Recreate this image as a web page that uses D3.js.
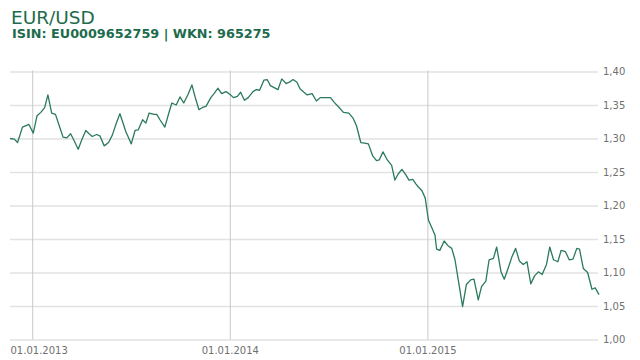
<!DOCTYPE html>
<html>
<head>
<meta charset="utf-8">
<script src="https://cdn.jsdelivr.net/npm/d3@7"></script>
<style>
  html, body { margin: 0; padding: 0; background: #fff; }
  svg { display: block; }
</style>
</head>
<body>
<svg id="chart" width="640" height="360"></svg>
<script>
const title = "EUR/USD";
const subtitle = "ISIN: EU0009652759 | WKN: 965275";

const dates = [
"2012-11-21","2012-11-29","2012-12-05","2012-12-14","2012-12-26","2013-01-03","2013-01-10","2013-01-17","2013-01-24","2013-01-30",
"2013-02-06","2013-02-13","2013-02-20","2013-02-27","2013-03-06","2013-03-13","2013-03-20","2013-03-27","2013-04-03","2013-04-10",
"2013-04-16","2013-04-22","2013-04-30","2013-05-06","2013-05-14","2013-05-22","2013-05-29","2013-06-05","2013-06-12","2013-06-17",
"2013-06-23","2013-06-28","2013-07-03","2013-07-10","2013-07-16","2013-07-24","2013-07-30","2013-08-05","2013-08-14","2013-08-19",
"2013-08-25","2013-09-03","2013-09-10","2013-09-16","2013-09-24","2013-10-01","2013-10-08","2013-10-16","2013-10-23","2013-10-29",
"2013-11-05","2013-11-13","2013-11-18","2013-11-27","2013-12-04","2013-12-10","2013-12-17","2013-12-25","2014-01-01","2014-01-08",
"2014-01-15","2014-01-21","2014-01-28","2014-02-04","2014-02-13","2014-02-19","2014-02-25","2014-03-05","2014-03-11","2014-03-17",
"2014-03-24","2014-03-31","2014-04-07","2014-04-15","2014-04-21","2014-04-28","2014-05-05","2014-05-11","2014-05-18","2014-05-24",
"2014-06-02","2014-06-10","2014-06-17","2014-06-27","2014-07-06","2014-07-13","2014-07-21","2014-07-30","2014-08-09","2014-08-17",
"2014-08-23","2014-08-31","2014-09-07","2014-09-14","2014-09-22","2014-09-29","2014-10-04","2014-10-11","2014-10-19","2014-10-27",
"2014-11-02","2014-11-08","2014-11-15","2014-11-22","2014-11-28","2014-12-05","2014-12-11","2014-12-15","2014-12-22","2014-12-28",
"2015-01-03","2015-01-09","2015-01-15","2015-01-18","2015-01-24","2015-02-01","2015-02-08","2015-02-15","2015-02-21","2015-02-28",
"2015-03-07","2015-03-14","2015-03-22","2015-03-28","2015-04-05","2015-04-11","2015-04-19","2015-04-25","2015-05-03","2015-05-09",
"2015-05-17","2015-05-23","2015-05-30","2015-06-06","2015-06-13","2015-06-20","2015-06-27","2015-07-04","2015-07-11","2015-07-18",
"2015-07-25","2015-08-01","2015-08-09","2015-08-15","2015-08-22","2015-08-30","2015-09-05","2015-09-13","2015-09-20","2015-09-27",
"2015-10-04","2015-10-09","2015-10-16","2015-10-24","2015-11-01","2015-11-07","2015-11-14"
];

const rates = [
1.300,1.299,1.294,1.317,1.321,1.308,1.334,1.339,1.346,1.365,
1.338,1.336,1.319,1.302,1.301,1.307,1.296,1.284,1.299,1.312,
1.307,1.303,1.306,1.304,1.289,1.294,1.305,1.322,1.337,1.325,
1.310,1.301,1.292,1.312,1.313,1.328,1.323,1.338,1.336,1.336,
1.328,1.317,1.337,1.353,1.350,1.362,1.353,1.366,1.380,1.362,
1.343,1.347,1.348,1.361,1.368,1.375,1.367,1.370,1.366,1.361,
1.363,1.369,1.357,1.361,1.370,1.373,1.372,1.387,1.388,1.379,
1.376,1.373,1.389,1.382,1.384,1.388,1.384,1.374,1.369,1.365,
1.367,1.356,1.361,1.361,1.361,1.354,1.347,1.339,1.338,1.330,
1.319,1.294,1.293,1.292,1.274,1.267,1.268,1.280,1.268,1.260,
1.238,1.247,1.254,1.246,1.238,1.239,1.232,1.228,1.222,1.211,
1.178,1.167,1.156,1.135,1.133,1.147,1.140,1.136,1.119,1.084,
1.049,1.082,1.089,1.090,1.059,1.079,1.087,1.119,1.121,1.138,
1.101,1.090,1.106,1.123,1.136,1.117,1.112,1.116,1.083,1.095,
1.101,1.097,1.112,1.138,1.119,1.116,1.133,1.131,1.119,1.120,
1.136,1.135,1.106,1.100,1.075,1.077,1.067
];

const yTicks = [1.00, 1.05, 1.10, 1.15, 1.20, 1.25, 1.30, 1.35, 1.40];
const xTicks = ["2013-01-01", "2014-01-01", "2015-01-01"];
const xDomain = ["2012-11-21", "2015-11-14"];

const parse = d3.utcParse("%Y-%m-%d");
const data = dates.map((d, i) => ({ date: parse(d), value: rates[i] }));

const svg = d3.select("#chart");
const plotLeft = 10, plotRight = 598, plotTop = 71.5, plotBottom = 339.5;

const x = d3.scaleUtc().domain(xDomain.map(parse)).range([plotLeft, 599]);
const y = d3.scaleLinear().domain([1.00, 1.40]).range([plotBottom, plotTop]);

const green = "#1d6b4c";
const labelFont = "DejaVu Sans, Verdana, sans-serif";

// title
svg.append("text").attr("x", 11).attr("y", 24)
  .attr("font-family", labelFont)
  .attr("font-size", 18.5).attr("fill", green).text(title);
svg.append("text").attr("x", 12).attr("y", 38)
  .attr("font-family", labelFont)
  .attr("font-weight", "bold")
  .attr("font-size", 12.8).attr("fill", green).text(subtitle);

// horizontal grid
const yAxis = d3.axisRight(y).tickValues(yTicks)
  .tickSize(plotRight - plotLeft).tickPadding(5)
  .tickFormat(d => d3.format(".2f")(d).replace(".", ","));
const gy = svg.append("g").attr("transform", `translate(${plotLeft},0)`).call(yAxis);
gy.select(".domain").remove();
gy.selectAll(".tick line").attr("stroke", "#e2e2e2").attr("stroke-width", 1.6);
gy.selectAll(".tick text")
  .attr("font-family", labelFont)
  .attr("font-size", 10).attr("fill", "#707070");

// vertical grid + labels
const fmt = d3.utcFormat("%d.%m.%Y");
const xAxis = d3.axisBottom(x).tickValues(xTicks.map(parse))
  .tickSize(-(plotBottom - plotTop + 1)).tickPadding(7).tickFormat(fmt);
const gx = svg.append("g").attr("transform", `translate(0,${plotBottom})`).call(xAxis);
gx.select(".domain").remove();
gx.selectAll(".tick line").attr("stroke", "#c8c8c8").attr("stroke-width", 1);
gx.selectAll(".tick text")
  .attr("font-family", labelFont)
  .attr("font-size", 10).attr("fill", "#707070")
  .each(function(d) {
    // keep labels inside the plot's left edge
    const bb = this.getBBox();
    const tx = x(d) + bb.x;
    if (tx < plotLeft) d3.select(this).attr("x", plotLeft - tx);
  });

// line
const line = d3.line().x(d => x(d.date)).y(d => y(d.value));
svg.append("path").datum(data)
  .attr("fill", "none").attr("stroke", "#2a7a5b")
  .attr("stroke-width", 1.3).attr("stroke-linejoin", "round")
  .attr("d", line);
</script>
</body>
</html>
